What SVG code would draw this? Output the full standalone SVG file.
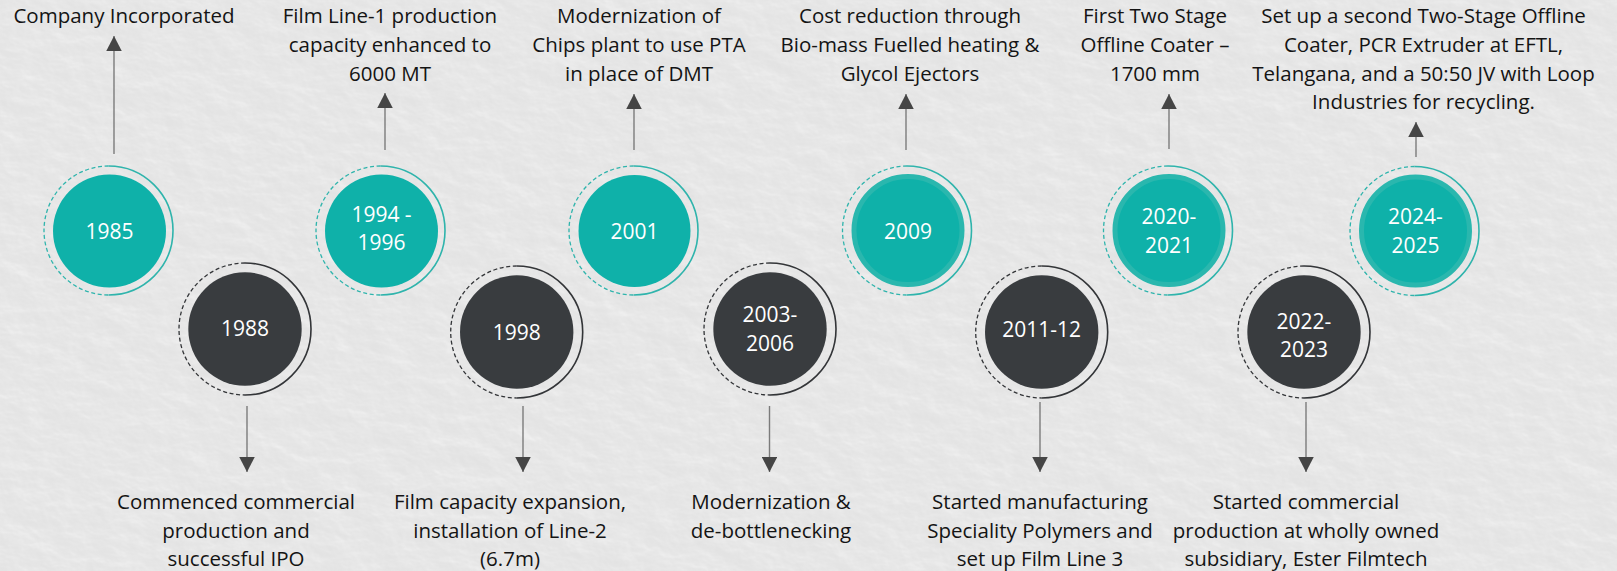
<svg xmlns="http://www.w3.org/2000/svg" width="1617" height="571" viewBox="0 0 1617 571">
<style>
.lbl{font-family:"Open Sans","Noto Sans",sans-serif;font-size:20.5px;fill:#141414;text-anchor:middle}
.yr{font-family:"Open Sans","Noto Sans",sans-serif;font-size:21px;fill:#ffffff;text-anchor:middle}
.conn{stroke:#7b7b7b;stroke-width:1.4;fill:none}
.tealFill{fill:#0fb1a9}
.darkFill{fill:#393c3f}
.tealInner{fill:#0fb1a9;stroke:#2ab7ae;stroke-width:5}
</style>
<defs>
<filter id="paper" x="0" y="0" width="100%" height="100%">
<feTurbulence type="fractalNoise" baseFrequency="0.03 0.05" numOctaves="4" seed="3" result="n"/>
<feDiffuseLighting in="n" lighting-color="#ffffff" surfaceScale="3" result="l">
<feDistantLight azimuth="135" elevation="55"/>
</feDiffuseLighting>
<feColorMatrix type="matrix" values="0 0 0 0 1  0 0 0 0 1  0 0 0 0 1  -1.2 0 0 0 1.2" in="l"/>
</filter>
<marker id="ah" viewBox="0 0 15 15.5" refX="15" refY="7.75" markerWidth="15" markerHeight="15.5" markerUnits="userSpaceOnUse" orient="auto">
<path d="M0,0 L15,7.75 L0,15.5 z" fill="#454545"/>
</marker>
<g id="ringTeal">
<path d="M0,-64.5 A64.5,64.5 0 0 0 0,64.5" fill="none" stroke="#2fb4ac" stroke-width="1.3" stroke-dasharray="4 2.6"/>
<path d="M0,-64.5 A64.5,64.5 0 0 1 0,64.5" fill="none" stroke="#2fb4ac" stroke-width="1.6"/>
</g>
<g id="ringDark">
<path d="M0,-66 A66,66 0 0 0 0,66" fill="none" stroke="#333538" stroke-width="1.3" stroke-dasharray="4 2.6"/>
<path d="M0,-66 A66,66 0 0 1 0,66" fill="none" stroke="#333538" stroke-width="1.6"/>
</g>
</defs>
<rect width="1617" height="571" fill="#e2e2e2"/>
<rect width="1617" height="571" fill="#000" filter="url(#paper)" opacity="0.7"/>

<g id="connectors">
<line class="conn" x1="114" y1="154" x2="114" y2="36" marker-end="url(#ah)"/>
<line class="conn" x1="385" y1="150" x2="385" y2="93" marker-end="url(#ah)"/>
<line class="conn" x1="634" y1="150" x2="634" y2="94" marker-end="url(#ah)"/>
<line class="conn" x1="906" y1="150" x2="906" y2="94" marker-end="url(#ah)"/>
<line class="conn" x1="1169" y1="149" x2="1169" y2="94" marker-end="url(#ah)"/>
<line class="conn" x1="1416" y1="157" x2="1416" y2="122" marker-end="url(#ah)"/>
<line class="conn" x1="247" y1="406" x2="247" y2="472" marker-end="url(#ah)"/>
<line class="conn" x1="523" y1="406" x2="523" y2="472" marker-end="url(#ah)"/>
<line class="conn" x1="769.5" y1="406" x2="769.5" y2="472" marker-end="url(#ah)"/>
<line class="conn" x1="1040" y1="402" x2="1040" y2="472" marker-end="url(#ah)"/>
<line class="conn" x1="1306" y1="402" x2="1306" y2="472" marker-end="url(#ah)"/>
</g>

<g id="n1985">
<use href="#ringTeal" x="108.5" y="230.5"/>
<circle class="tealFill" cx="109.5" cy="231" r="56.5"/>
<text class="yr" x="109.5" y="239.3">1985</text>
<text class="lbl" x="124" y="23">Company Incorporated</text>
</g>

<g id="n1988">
<use href="#ringDark" x="245" y="329"/>
<circle class="darkFill" cx="245" cy="329" r="56.7"/>
<text class="yr" x="245" y="336">1988</text>
<text class="lbl" x="236" y="509">Commenced commercial</text>
<text class="lbl" x="236" y="537.7">production and</text>
<text class="lbl" x="236" y="566">successful IPO</text>
</g>

<g id="n1994">
<use href="#ringTeal" x="380.5" y="230.5"/>
<circle class="tealFill" cx="381.5" cy="231" r="56.5"/>
<text class="yr" x="381.5" y="221.7">1994 -</text>
<text class="yr" x="381.5" y="250">1996</text>
<text class="lbl" x="390" y="23">Film Line-1 production</text>
<text class="lbl" x="390" y="52">capacity enhanced to</text>
<text class="lbl" x="390" y="80.7">6000 MT</text>
</g>

<g id="n1998">
<use href="#ringDark" x="516.7" y="332"/>
<circle class="darkFill" cx="516.7" cy="332" r="56.7"/>
<text class="yr" x="516.7" y="340.3">1998</text>
<text class="lbl" x="510" y="509">Film capacity expansion,</text>
<text class="lbl" x="510" y="537.7">installation of Line-2</text>
<text class="lbl" x="510" y="566">(6.7m)</text>
</g>

<g id="n2001">
<use href="#ringTeal" x="633.5" y="230.5"/>
<circle class="tealFill" cx="634.5" cy="231" r="56"/>
<text class="yr" x="634.5" y="239">2001</text>
<text class="lbl" x="639" y="23">Modernization of</text>
<text class="lbl" x="639" y="52">Chips plant to use PTA</text>
<text class="lbl" x="639" y="80.7">in place of DMT</text>
</g>

<g id="n2003">
<use href="#ringDark" x="770" y="329"/>
<circle class="darkFill" cx="770" cy="329" r="56.7"/>
<text class="yr" x="770" y="321.7">2003-</text>
<text class="yr" x="770" y="350.5">2006</text>
<text class="lbl" x="771" y="509">Modernization &amp;</text>
<text class="lbl" x="771" y="537.7">de-bottlenecking</text>
</g>

<g id="n2009">
<use href="#ringTeal" x="907" y="230.5"/>
<circle class="tealInner" cx="908" cy="230.5" r="54"/>
<text class="yr" x="908" y="239.3">2009</text>
<text class="lbl" x="910" y="23">Cost reduction through</text>
<text class="lbl" x="910" y="52">Bio-mass Fuelled heating &amp;</text>
<text class="lbl" x="910" y="80.7">Glycol Ejectors</text>
</g>

<g id="n2011">
<use href="#ringDark" x="1041.7" y="332"/>
<circle class="darkFill" cx="1041.7" cy="332" r="56.7"/>
<text class="yr" x="1041.7" y="336.7">2011-12</text>
<text class="lbl" x="1040" y="509">Started manufacturing</text>
<text class="lbl" x="1040" y="537.7">Speciality Polymers and</text>
<text class="lbl" x="1040" y="566">set up Film Line 3</text>
</g>

<g id="n2020">
<use href="#ringTeal" x="1168" y="230.5"/>
<circle class="tealInner" cx="1169" cy="230.5" r="54"/>
<text class="yr" x="1169" y="224">2020-</text>
<text class="yr" x="1169" y="252.7">2021</text>
<text class="lbl" x="1155" y="23">First Two Stage</text>
<text class="lbl" x="1155" y="52">Offline Coater –</text>
<text class="lbl" x="1155" y="80.7">1700 mm</text>
</g>

<g id="n2022">
<use href="#ringDark" x="1304" y="332"/>
<circle class="darkFill" cx="1304" cy="332" r="56.7"/>
<text class="yr" x="1304" y="329.3">2022-</text>
<text class="yr" x="1304" y="357.3">2023</text>
<text class="lbl" x="1306" y="509">Started commercial</text>
<text class="lbl" x="1306" y="537.7">production at wholly owned</text>
<text class="lbl" x="1306" y="566">subsidiary, Ester Filmtech</text>
</g>

<g id="n2024">
<use href="#ringTeal" x="1414.5" y="231"/>
<circle class="tealInner" cx="1415.5" cy="231" r="54"/>
<text class="yr" x="1415.5" y="224">2024-</text>
<text class="yr" x="1415.5" y="252.7">2025</text>
<text class="lbl" x="1423.5" y="23">Set up a second Two-Stage Offline</text>
<text class="lbl" x="1423.5" y="52">Coater, PCR Extruder at EFTL,</text>
<text class="lbl" x="1423.5" y="80.7">Telangana, and a 50:50 JV with Loop</text>
<text class="lbl" x="1423.5" y="109.3">Industries for recycling.</text>
</g>
</svg>
